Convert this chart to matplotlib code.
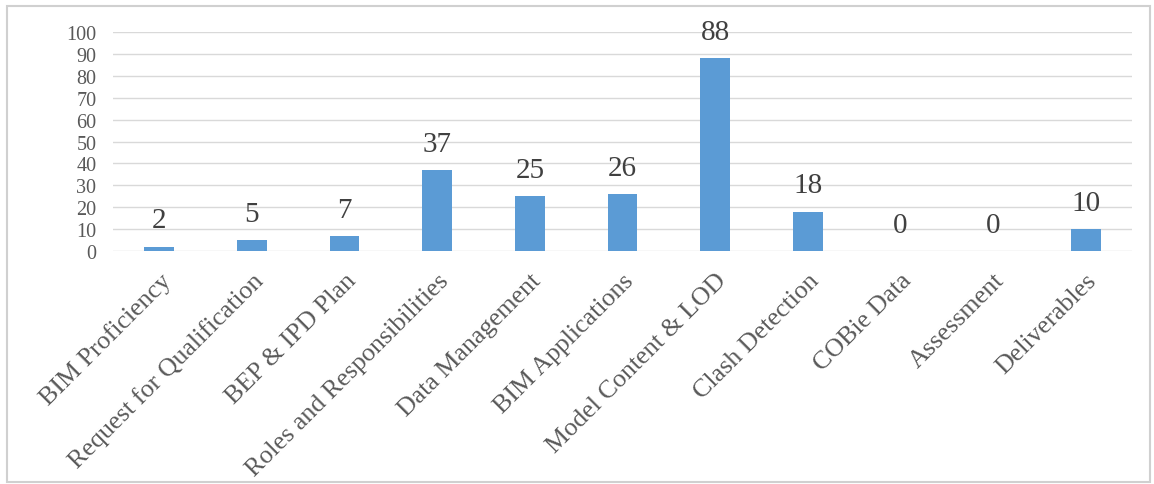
import matplotlib.pyplot as plt
from matplotlib.patches import Rectangle

# данные диаграммы
categories = ["BIM Proficiency", "Request for Qualification", "BEP & IPD Plan",
              "Roles and Responsibilities", "Data Management", "BIM Applications",
              "Model Content & LOD", "Clash Detection", "COBie Data",
              "Assessment", "Deliverables"]
values = [2, 5, 7, 37, 25, 26, 88, 18, 0, 0, 10]
y_ticks = list(range(0, 101, 10))

plt.rcParams['font.family'] = ['Liberation Serif', 'DejaVu Serif']

fig = plt.figure(figsize=(11.54, 4.85), dpi=100)
ax = fig.add_axes([113/1154, 1 - 252/485, (1132-113)/1154, (252-33)/485])

x = list(range(len(categories)))
ax.bar(x, values, width=0.32, color='#5B9BD5', zorder=3)

# подписи значений над столбцами
for xi, v in zip(x, values):
    ax.text(xi, v + 6.0, str(v), ha='center', va='bottom',
            fontsize=21, color='#404040')

ax.set_xlim(-0.5, len(categories) - 0.5)
ax.set_ylim(0, 100)
ax.set_yticks(y_ticks)
ax.set_yticklabels([str(t) for t in y_ticks], fontsize=14.5, color='#595959')
ax.set_xticks(x)
ax.set_xticklabels(categories, rotation=45, ha='right', va='top',
                   rotation_mode='anchor', fontsize=18.7, color='#595959')
ax.tick_params(axis='both', length=0)
ax.tick_params(axis='y', pad=12)
ax.tick_params(axis='x', pad=13)
ax.grid(axis='y', color='#D9D9D9', linewidth=1, zorder=0)
for s in ax.spines.values():
    s.set_visible(False)

# рамка вокруг диаграммы
fig.patches.append(Rectangle((7/1154, 2/485), 1143/1154, 476/485,
                             transform=fig.transFigure, fill=False,
                             edgecolor='#D0D0D0', linewidth=1.5))

fig.savefig('out.png', dpi=100)
